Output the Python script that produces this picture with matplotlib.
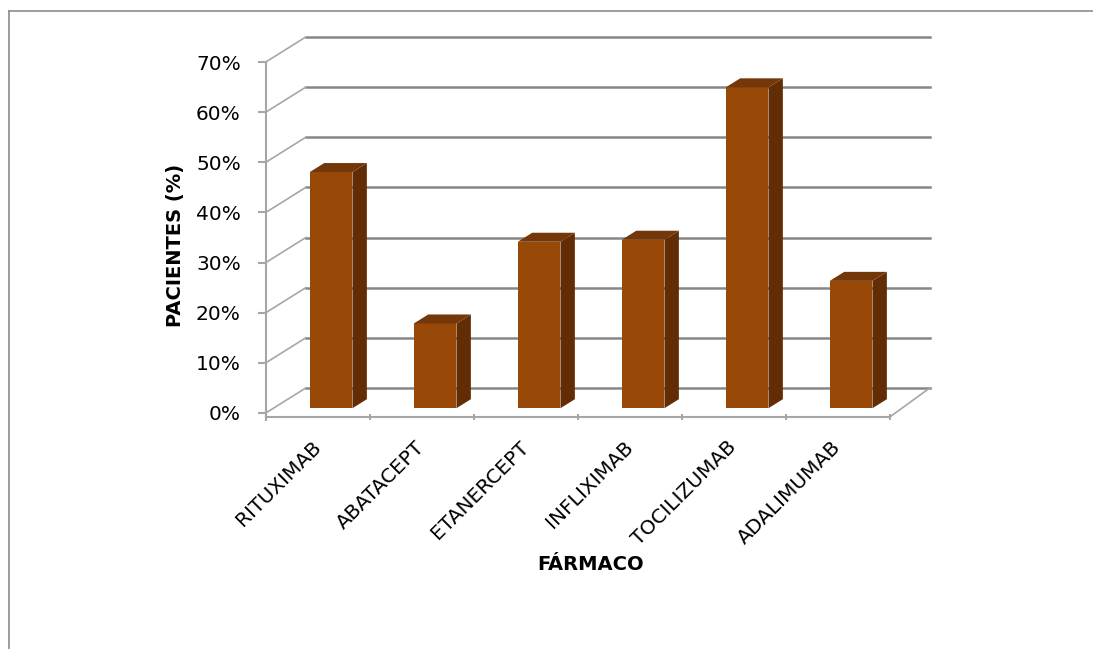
import numpy as np
import matplotlib.pyplot as plt
from matplotlib.patches import Polygon
from matplotlib.lines import Line2D
from matplotlib.ticker import PercentFormatter

farmacos = ['RITUXIMAB', 'ABATACEPT', 'ETANERCEPT', 'INFLIXIMAB', 'TOCILIZUMAB', 'ADALIMUMAB']
pacientes = [0.471, 0.169, 0.332, 0.336, 0.640, 0.254]
yticks = [0.0, 0.1, 0.2, 0.3, 0.4, 0.5, 0.6, 0.7]

# fake 3D: oblique offset of the back wall (x in categories, y in value units)
DX, DY = 0.385, 0.05
Z0, ZD = 0.19, 0.36      # depth of bar front face, depth of bar
W, OFF = 0.41, 0.555     # bar width, bar centre inside its category
FRONT, TOP, SIDE = '#984807', '#74370A', '#622D04'
GRID, AXC = '#868686', '#A6A6A6'

fig = plt.figure(figsize=(10.93, 6.49), dpi=100)
ax = fig.add_axes([200/1093, 179/649, 760/1093, 450/649])
ax.set_xlim(-0.6327, 6.675)
ax.set_ylim(-0.1137, 0.7838)

# back wall gridlines and left wall slants
for yt in yticks:
    ax.plot([DX, len(farmacos) + DX], [yt + DY, yt + DY], color=GRID, lw=1.8, zorder=1)
    ax.plot([0, DX], [yt, yt + DY], color=AXC, lw=1.2, zorder=1)
ax.plot([len(farmacos), len(farmacos) + DX], [-0.008, DY], color=AXC, lw=1.2, zorder=1)

# bars: front face with ax.bar, top and side faces as polygons
n = len(farmacos)
xl = np.arange(n) + OFF - W / 2 + Z0 * DX
base = Z0 * DY
ax.bar(xl, pacientes, width=W, bottom=base, align='edge', color=FRONT, zorder=3)
for x0, v in zip(xl, pacientes):
    top = v + base
    xr = x0 + W
    ax.add_patch(Polygon([(xr, base), (xr + ZD * DX, base + ZD * DY),
                          (xr + ZD * DX, top + ZD * DY), (xr, top)],
                         closed=True, facecolor=SIDE, edgecolor='none', zorder=3))
    ax.add_patch(Polygon([(x0, top), (xr, top), (xr + ZD * DX, top + ZD * DY),
                          (x0 + ZD * DX, top + ZD * DY)],
                         closed=True, facecolor=TOP, edgecolor='none', zorder=3))

# axes
for s in ['top', 'right']:
    ax.spines[s].set_visible(False)
ax.spines['left'].set_position(('data', 0))
ax.spines['left'].set_bounds(-0.014, 0.7)
ax.spines['bottom'].set_position(('data', -0.008))
ax.spines['bottom'].set_bounds(0, n)
for s in ['left', 'bottom']:
    ax.spines[s].set_color(AXC)
    ax.spines[s].set_linewidth(1.5)

ax.set_yticks(yticks)
ax.yaxis.set_major_formatter(PercentFormatter(1.0, decimals=0))
ax.tick_params(axis='y', length=6, width=1.5, color=AXC, pad=12, labelsize=14.5)
ax.set_xticks(range(n + 1))
ax.set_xticklabels([])
ax.tick_params(axis='x', direction='inout', length=5, width=1.5, color=AXC)

for i, name in enumerate(farmacos):
    ax.text(i + 0.5, -0.062, name, rotation=45, rotation_mode='anchor',
            ha='right', va='center', fontsize=14.5)

fig.text(176/1093, 1 - 245/649, 'PACIENTES (%)', rotation=90, ha='center',
         va='center', fontsize=14, fontweight='bold')
fig.text(591/1093, 1 - 565/649, 'FÁRMACO', ha='center', va='center',
         fontsize=14, fontweight='bold')

# chart area border (left and top only, rest cropped)
fig.add_artist(Line2D([9/1093, 9/1093], [0, 1 - 11/649], color='#8C8C8C', lw=1.2))
fig.add_artist(Line2D([9/1093, 1], [1 - 11/649, 1 - 11/649], color='#8C8C8C', lw=1.2))

fig.savefig('out.png', dpi=100)
